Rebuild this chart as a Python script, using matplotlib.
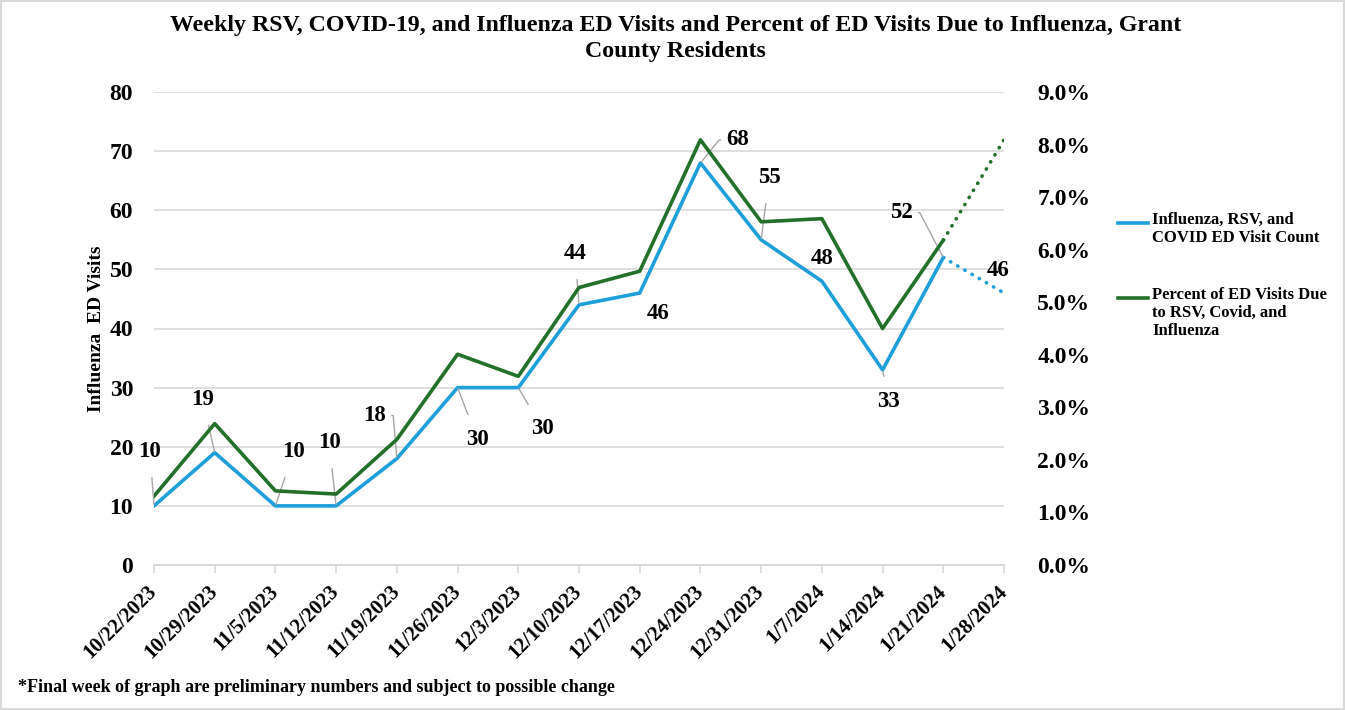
import numpy as np
import matplotlib.pyplot as plt
from matplotlib.lines import Line2D
from matplotlib.ticker import FuncFormatter

plt.rcParams['font.family'] = ['Liberation Serif', 'DejaVu Serif']
plt.rcParams['font.weight'] = 'bold'

# data
weeks = ['10/22/2023', '10/29/2023', '11/5/2023', '11/12/2023', '11/19/2023',
         '11/26/2023', '12/3/2023', '12/10/2023', '12/17/2023', '12/24/2023',
         '12/31/2023', '1/7/2024', '1/14/2024', '1/21/2024', '1/28/2024']
visit_count = [10, 19, 10, 10, 18, 30, 30, 44, 46, 68, 55, 48, 33, 52, 46]
pct_visits = [1.31, 2.69, 1.41, 1.35, 2.39, 4.01, 3.59, 5.28, 5.59, 8.09,
              6.53, 6.59, 4.50, 6.18, 8.09]

# label offsets in pixels (dx, dy) and whether a leader line is drawn
label_dx = [-4, -12, 18, -7, -22, 20, 24, -4, 18, 37, 8, 0, 6, -42, -6]
label_dy = [54, 53, 54, 63, 43, -52, -41, 51, -20, 23, 62, 23, -32, 45, 23]
leader = [1, 1, 1, 1, 1, 1, 1, 1, 0, 1, 1, 0, 1, 1, 0]
# labels whose leader starts with a short horizontal stub: index -> side
elbow = {4: 'right', 9: 'left', 13: 'right'}

blue = '#1E9FD9'
green = '#22702A'
grid_col = '#D9D9D9'

W, H = 1345, 710
fig = plt.figure(figsize=(W / 100, H / 100), dpi=100)
ax = fig.add_axes([154 / W, 1 - 565 / H, (1004 - 154) / W, (565 - 92) / H])
ax2 = ax.twinx()

x = np.arange(len(weeks))
n_solid = len(weeks) - 1  # last week is preliminary -> dotted

ax.plot(x[:n_solid], visit_count[:n_solid], color=blue, lw=2.6, zorder=3)
ax.plot(x[n_solid - 1:], visit_count[n_solid - 1:], color=blue, lw=2.6,
        linestyle=(0, (0.1, 2.2)), dash_capstyle='round', zorder=3)
ax2.plot(x[:n_solid], pct_visits[:n_solid], color=green, lw=2.6, zorder=3)
ax2.plot(x[n_solid - 1:], pct_visits[n_solid - 1:], color=green, lw=2.6,
         linestyle=(0, (0.1, 2.2)), dash_capstyle='round', zorder=3)

ax.set_xlim(0, len(weeks) - 1)
ax.set_ylim(0, 80)
ax.set_yticks(np.arange(0, 81, 10))
ax2.set_ylim(0, 9)
ax2.set_yticks(np.arange(0, 9.1, 1))
ax2.yaxis.set_major_formatter(FuncFormatter(lambda v, p: f'{v:.1f}%'))

ax.grid(axis='y', color=grid_col, lw=1.2)
ax.set_axisbelow(True)
for a in (ax, ax2):
    for side in ('top', 'left', 'right'):
        a.spines[side].set_visible(False)
    a.spines['bottom'].set_color(grid_col)
    a.spines['bottom'].set_linewidth(1.2)

ax.set_xticks(x)
ax.set_xticklabels(weeks, rotation=45, ha='right', va='center',
                   rotation_mode='anchor', fontsize=15, fontweight='bold')
ax.tick_params(axis='x', length=6, color=grid_col, width=1.2, pad=11)
ax.tick_params(axis='y', length=0, labelsize=17, pad=15)
ax2.tick_params(axis='y', length=0, labelsize=17, pad=24)
ax2.tick_params(axis='x', length=0)

ax.set_ylabel('Influenza  ED Visits', fontsize=14, fontweight='bold', labelpad=3)

for i, v in enumerate(visit_count):
    props = None
    if leader[i]:
        props = dict(arrowstyle='-', color='#A6A6A6', lw=1.0,
                     shrinkA=9, shrinkB=1)
        if i in elbow:
            side = elbow[i]
            props.update(relpos=(1, 0.5) if side == 'right' else (0, 0.5),
                         shrinkA=2,
                         connectionstyle='arc,angleA=%d,armA=7,angleB=0,armB=0,rad=0'
                         % (0 if side == 'right' else 180))
    ax.annotate(str(v), (x[i], v), xytext=(label_dx[i], label_dy[i]),
                textcoords='offset pixels', ha='center', va='center',
                fontsize=16.5, fontweight='bold', arrowprops=props, zorder=5)

# legend drawn by hand so the swatch sits on the first text line
fig.add_artist(Line2D([1118 / W, 1148 / W], [1 - 223 / H] * 2, color=blue, lw=2.6))
fig.text(1152 / W, 1 - 212 / H, 'Influenza, RSV, and\nCOVID ED Visit Count',
         ha='left', va='top', fontsize=12, fontweight='bold', linespacing=1.15)
fig.add_artist(Line2D([1118 / W, 1148 / W], [1 - 298 / H] * 2, color=green, lw=2.6))
fig.text(1152 / W, 1 - 287 / H, 'Percent of ED Visits Due\nto RSV, Covid, and\nInfluenza',
         ha='left', va='top', fontsize=12, fontweight='bold', linespacing=1.15)

fig.text(0.502, 1 - 15 / H,
         'Weekly RSV, COVID-19, and Influenza ED Visits and Percent of ED Visits Due to Influenza, Grant\nCounty Residents',
         ha='center', va='top', fontsize=17.2, fontweight='bold', linespacing=1.3)
fig.text(18 / W, 1 - 688 / H,
         '*Final week of graph are preliminary numbers and subject to possible change',
         ha='left', va='center', fontsize=13, fontweight='bold')

# light frame around the whole chart
fig.add_artist(plt.Rectangle((0.001, 0.001), 0.998, 0.997, transform=fig.transFigure,
                             fill=False, edgecolor=grid_col, lw=1.5))

fig.savefig('out.png', dpi=100)
